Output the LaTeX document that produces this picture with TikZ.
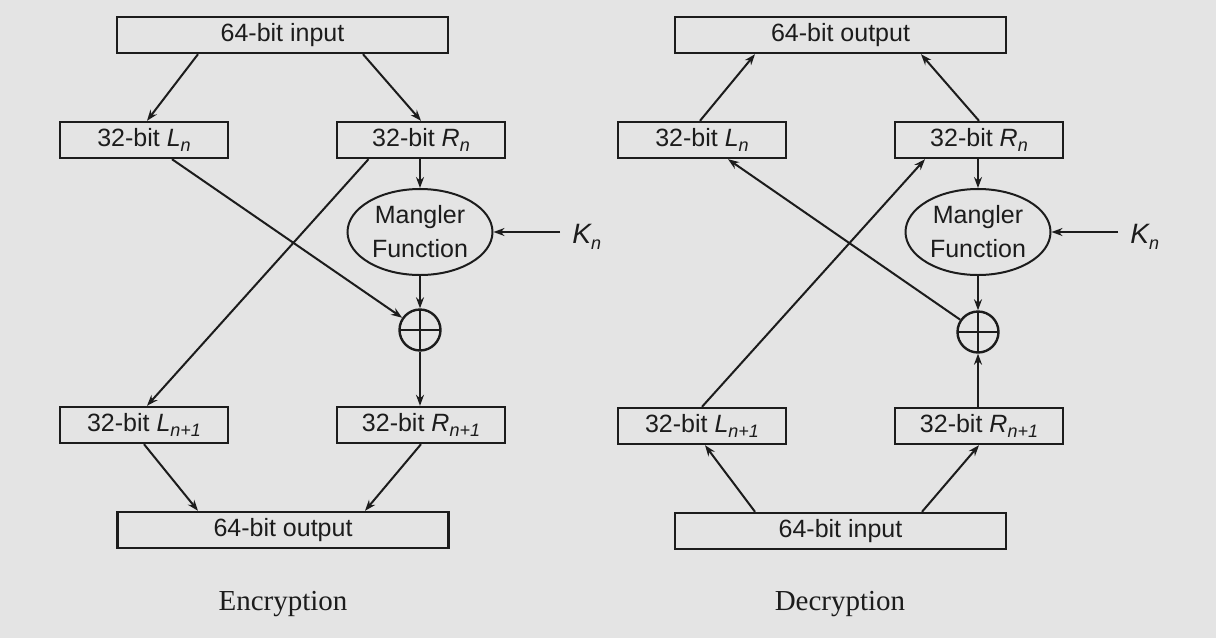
\documentclass[tikz,border=0pt]{standalone}
\usepackage{fontspec}
\setmainfont{Liberation Serif}
\setsansfont{Liberation Sans}
\usetikzlibrary{shapes.geometric,arrows.meta}
\definecolor{bgc}{RGB}{228,228,228}
\definecolor{ink}{RGB}{28,28,28}
\newcommand{\sbs}[1]{\raisebox{-0.4ex}{\fontsize{9}{10}\selectfont\itshape #1}}
\begin{document}
\begin{tikzpicture}[x=0.5pt,y=-0.5pt,
  every node/.style={font=\sffamily\fontsize{12.5}{17}\selectfont, text=ink},
  wbox/.style={draw=ink, line width=1.2pt, minimum width=165.5pt, minimum height=18pt, inner sep=0pt},
  hbox/.style={draw=ink, line width=1.2pt, minimum width=84pt, minimum height=18pt, inner sep=0pt},
  mangler/.style={draw=ink, ellipse, line width=1pt, minimum width=72.5pt, minimum height=43pt, inner sep=0pt, align=center},
  xorc/.style={draw=ink, circle, line width=1.2pt, minimum size=20.5pt, inner sep=0pt,
    path picture={\draw[ink, line width=1.2pt] (path picture bounding box.north) -- (path picture bounding box.south)
      (path picture bounding box.west) -- (path picture bounding box.east);}},
  keyl/.style={font=\sffamily\fontsize{14}{16}\selectfont\itshape, inner sep=6pt},
  capt/.style={font=\rmfamily\fontsize{14.5}{16}\selectfont},
  arr/.style={draw=ink, line width=1pt, -{Stealth[length=5.5pt,width=4pt]}},
  ln/.style={draw=ink, line width=1pt}
]
\fill[bgc] (0,0) rectangle (1216,638);
% ---------- Encryption ----------
\node[wbox] (ein) at (282.5,35) {64-bit input};
\node[hbox] (eL) at (144,140) {32-bit \textit{L}\sbs{n}};
\node[hbox] (eR) at (421,140) {32-bit \textit{R}\sbs{n}};
\node[mangler] (em) at (420,232) {Mangler\\Function};
\node[keyl, anchor=west] (ek) at (560,237) {K\sbs{n}};
\node[xorc] (ex) at (420,330) {};
\node[hbox] (eL1) at (144,425) {32-bit \textit{L}\sbs{n+1}};
\node[hbox] (eR1) at (421,425) {32-bit \textit{R}\sbs{n+1}};
\node[wbox] (eout) at (283,530) {64-bit output};
\node[capt] (ecap) at (283,604) {Encryption};
\draw[arr] ([xshift=-42.25pt]ein.south) -- ([xshift=1.5pt]eL.north);
\draw[arr] ([xshift=40.25pt]ein.south) -- (eR.north);
\draw[arr] (eR.south -| em.north) -- (em.north);
\draw[arr] (em.east -| ek.west) -- (em.east);
\draw[arr] (em.south) -- (ex.north);
\draw[arr] ([xshift=14pt]eL.south) -- (ex);
\draw[arr] ([xshift=-26.25pt]eR.south) -- ([xshift=1.5pt]eL1.north);
\draw[arr] (ex.south) -- (ex.south |- eR1.north);
\draw[arr] (eL1.south) -- ([xshift=-42.5pt]eout.north);
\draw[arr] (eR1.south) -- ([xshift=41pt]eout.north);
% ---------- Decryption ----------
\node[wbox] (dout) at (840.5,35) {64-bit output};
\node[hbox] (dL) at (702,140) {32-bit \textit{L}\sbs{n}};
\node[hbox] (dR) at (979,140) {32-bit \textit{R}\sbs{n}};
\node[mangler] (dm) at (978,232) {Mangler\\Function};
\node[keyl, anchor=west] (dk) at (1118,237) {K\sbs{n}};
\node[xorc] (dx) at (978,332) {};
\node[hbox] (dL1) at (702,426) {32-bit \textit{L}\sbs{n+1}};
\node[hbox] (dR1) at (979,426) {32-bit \textit{R}\sbs{n+1}};
\node[wbox] (din) at (840.5,531) {64-bit input};
\node[capt] (dcap) at (840,604) {Decryption};
\draw[arr] ([xshift=-1pt]dL.north) -- ([xshift=-42.75pt]dout.south);
\draw[arr] (dR.north) -- ([xshift=40.25pt]dout.south);
\draw[arr] (dR.south -| dm.north) -- (dm.north);
\draw[arr] (dm.east -| dk.west) -- (dm.east);
\draw[arr] (dm.south) -- (dx.north);
\draw[arr] (dx) -- ([xshift=13pt]dL.south);
\draw[arr] (dL1.north) -- ([xshift=-27pt]dR.south);
\draw[arr] (dx.south |- dR1.north) -- (dx.south);
\draw[arr] ([xshift=-42.75pt]din.north) -- ([xshift=1.5pt]dL1.south);
\draw[arr] ([xshift=40.75pt]din.north) -- (dR1.south);
\end{tikzpicture}
\end{document}
